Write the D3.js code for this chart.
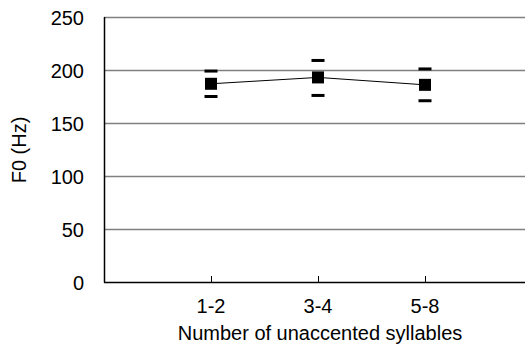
<!DOCTYPE html>
<html>
<head>
<meta charset="utf-8">
<script src="https://cdn.jsdelivr.net/npm/d3@7"></script>
<style>
  html, body { margin: 0; padding: 0; background: #fff; }
  svg { display: block; }
  text { font-family: "Liberation Sans", Arial, sans-serif; fill: #000; }
</style>
</head>
<body>
<svg id="chart" width="525" height="345"></svg>
<script>
const categories = ["1-2", "3-4", "5-8"];
const meanF0 = [187, 193, 186];
const upperF0 = [199, 209, 201];
const lowerF0 = [175, 176, 171];
const yTicks = [0, 50, 100, 150, 200, 250];

(function () {
const svg = d3.select("#chart");
const pLeft = 104, pRight = 532, pTop = 17, pBottom = 282;
const fs = 20;

const x = d3.scaleLinear().domain([0, categories.length + 1]).range([pLeft, pRight]);
const y = d3.scaleLinear().domain([0, 250]).range([pBottom, pTop]);

// gridlines
svg.append("g").selectAll("line").data(yTicks.filter(d => d > 0)).join("line")
  .attr("x1", pLeft).attr("x2", 525)
  .attr("y1", d => Math.round(y(d)) + 0.5).attr("y2", d => Math.round(y(d)) + 0.5)
  .attr("stroke", "#808080").attr("stroke-width", 1.5);

// y tick labels
svg.append("g").selectAll("text").data(yTicks).join("text")
  .attr("x", 84).attr("y", d => y(d) + 8)
  .attr("text-anchor", "end").attr("font-size", fs)
  .text(d => d);

// axes lines
svg.append("line").attr("x1", pLeft + 0.5).attr("x2", pLeft + 0.5)
  .attr("y1", pTop).attr("y2", pBottom + 0.5).attr("stroke", "#000").attr("stroke-width", 1.5);
svg.append("line").attr("x1", pLeft).attr("x2", 525)
  .attr("y1", pBottom + 0.5).attr("y2", pBottom + 0.5).attr("stroke", "#000").attr("stroke-width", 1.5);

// x ticks (inward)
svg.append("g").selectAll("line").data(categories).join("line")
  .attr("x1", (d, i) => Math.round(x(i + 1)) + 0.5).attr("x2", (d, i) => Math.round(x(i + 1)) + 0.5)
  .attr("y1", pBottom - 6).attr("y2", pBottom)
  .attr("stroke", "#000").attr("stroke-width", 1);

// x tick labels
svg.append("g").selectAll("text").data(categories).join("text")
  .attr("x", (d, i) => x(i + 1)).attr("y", 313)
  .attr("text-anchor", "middle").attr("font-size", fs)
  .text(d => d);

// axis titles
svg.append("text").attr("x", 320).attr("y", 340)
  .attr("text-anchor", "middle").attr("font-size", fs)
  .text("Number of unaccented syllables");
svg.append("text").attr("transform", "translate(26,150) rotate(-90)")
  .attr("text-anchor", "middle").attr("font-size", fs)
  .text("F0 (Hz)");

// line connecting means
const line = d3.line().x((d, i) => x(i + 1)).y(d => y(d));
svg.append("path").datum(meanF0).attr("d", line)
  .attr("fill", "none").attr("stroke", "#000").attr("stroke-width", 1);

// error caps
const capW = 13, capH = 3;
svg.append("g").selectAll("rect").data(upperF0.concat(lowerF0)).join("rect")
  .attr("x", (d, i) => x((i % categories.length) + 1) - capW / 2)
  .attr("y", d => y(d) - capH / 2)
  .attr("width", capW).attr("height", capH).attr("fill", "#000");

// markers
const m = 12;
svg.append("g").selectAll("rect").data(meanF0).join("rect")
  .attr("x", (d, i) => x(i + 1) - m / 2)
  .attr("y", d => y(d) - m / 2)
  .attr("width", m).attr("height", m).attr("fill", "#000");
})();
</script>
</body>
</html>
